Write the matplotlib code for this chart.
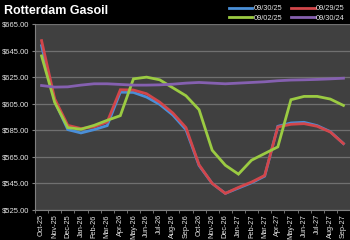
import matplotlib
matplotlib.use("Agg")
import matplotlib.pyplot as plt
from matplotlib.ticker import FixedLocator

months = ["Oct-25", "Nov-25", "Dec-25", "Jan-26", "Feb-26", "Mar-26", "Apr-26", "May-26",
          "Jun-26", "Jul-26", "Aug-26", "Sep-26", "Oct-26", "Nov-26", "Dec-26", "Jan-27",
          "Feb-27", "Mar-27", "Apr-27", "May-27", "Jun-27", "Jul-27", "Aug-27", "Sep-27"]

s_093025 = [648.7, 607.0, 585.5, 583.0, 585.5, 588.5, 613.7, 613.5, 610.0, 604.5, 596.5, 585.5,
            558.5, 545.0, 537.5, 541.5, 545.5, 550.5, 588.0, 590.5, 591.0, 588.5, 584.0, 575.0]
s_092925 = [652.5, 608.7, 588.7, 586.3, 587.6, 591.2, 615.5, 615.3, 612.5, 606.2, 598.0, 587.0,
            559.0, 545.0, 537.5, 542.0, 546.0, 551.0, 587.5, 589.5, 590.0, 588.0, 583.7, 575.0]
s_090225 = [641.0, 606.0, 587.0, 585.8, 588.7, 592.5, 596.0, 623.7, 625.0, 623.0, 617.0, 611.0,
            600.5, 570.0, 558.7, 552.0, 562.5, 567.5, 572.5, 608.0, 610.5, 610.5, 608.5, 603.7]
s_093024 = [618.7, 617.5, 617.7, 619.0, 620.0, 620.0, 619.5, 619.0, 619.0, 619.2, 619.7, 620.5,
            621.0, 620.5, 620.0, 620.5, 621.0, 621.5, 622.3, 622.8, 623.0, 623.3, 623.7, 624.2]

series_names = ["09/30/25", "09/29/25", "09/02/25", "09/30/24"]
series_vals = [s_093025, s_092925, s_090225, s_093024]
colors = ["#4a8fd8", "#d2464a", "#9bcb42", "#8560b0"]

y_ticks = [525, 545, 565, 585, 605, 625, 645, 665]

plt.rcParams['font.family'] = ['Liberation Sans', 'DejaVu Sans']

fig = plt.figure(figsize=(3.5, 2.4), dpi=100, facecolor="black")
ax = fig.add_axes([0.1, 0.125, 0.9, 0.775])
ax.set_facecolor("#404040")

x = list(range(len(months)))
handles = []
for name, vals, c in zip(series_names, series_vals, colors):
    h, = ax.plot(x, vals, color=c, lw=2.0, label=name, solid_joinstyle="miter")
    handles.append(h)

ax.set_xlim(-0.5, len(months) - 0.5)
ax.set_ylim(525, 665)
ax.set_yticks(y_ticks)
ax.set_yticklabels([f"${v:.2f}" for v in y_ticks])
ax.yaxis.grid(True, color="#707070", lw=0.9)
ax.set_axisbelow(True)

ax.set_xticks(x)
ax.set_xticklabels(months, rotation=90)
ax.xaxis.set_minor_locator(FixedLocator([i - 0.5 for i in range(len(months) + 1)]))
ax.tick_params(axis="x", which="major", length=0, pad=3, labelsize=5.3, colors="#e6e6e6")
ax.tick_params(axis="x", which="minor", length=2, color="#808080")
ax.tick_params(axis="y", length=2, pad=2, labelsize=5.5, colors="#e6e6e6", color="#808080")

for side in ["top", "right"]:
    ax.spines[side].set_visible(False)
for side in ["left", "bottom"]:
    ax.spines[side].set_color("#808080")
    ax.spines[side].set_linewidth(0.8)

fig.text(0.01, 0.955, "Rotterdam Gasoil", color="white", fontsize=9,
         fontweight="bold", va="center", ha="left")

order = [0, 2, 1, 3]
leg = fig.legend([handles[i] for i in order], [series_names[i] for i in order],
                 loc="upper right", bbox_to_anchor=(1.0, 1.0), ncol=2, frameon=False,
                 fontsize=5.3, handlelength=3.2, handletextpad=0.2, columnspacing=1.2,
                 labelspacing=0.35, borderaxespad=0.3)
for t in leg.get_texts():
    t.set_color("#e6e6e6")

fig.savefig("out.png", dpi=100, facecolor="black")
